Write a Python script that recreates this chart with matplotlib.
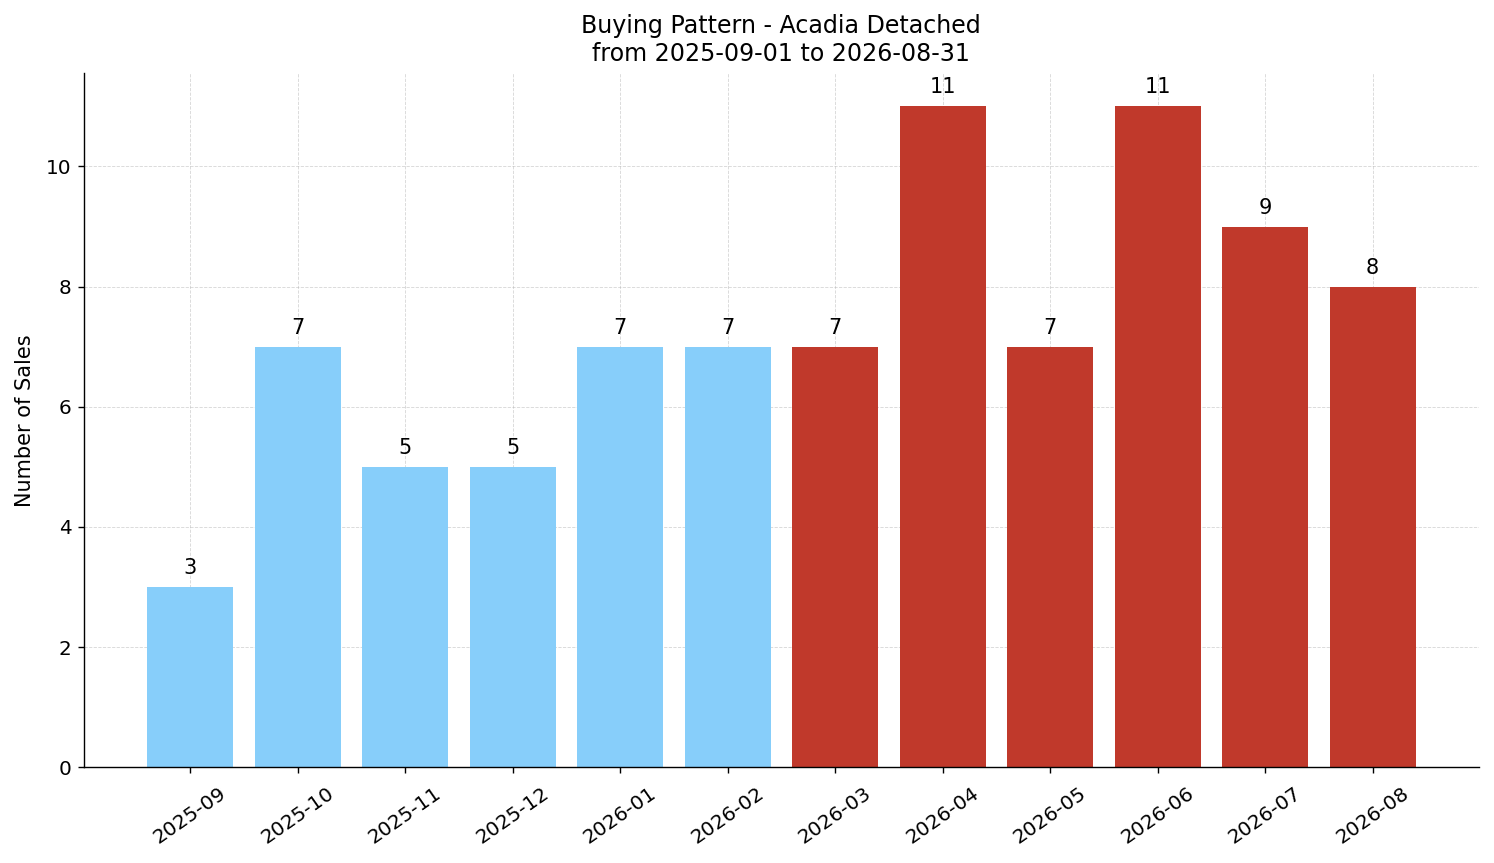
import matplotlib
matplotlib.use("Agg")
import matplotlib.pyplot as plt

months = ["2025-09", "2025-10", "2025-11", "2025-12", "2026-01", "2026-02",
          "2026-03", "2026-04", "2026-05", "2026-06", "2026-07", "2026-08"]
sales = [3, 7, 5, 5, 7, 7, 7, 11, 7, 11, 9, 8]
is_future = [False, False, False, False, False, False, True, True, True, True, True, True]

past_color = "#87CEFA"
future_color = "#C0392B"
colors = [future_color if f else past_color for f in is_future]

fig, ax = plt.subplots(figsize=(11.952, 6.904), dpi=125)
x = list(range(len(months)))
ax.bar(x, sales, color=colors, width=0.8, zorder=2)
for xi, v in zip(x, sales):
    ax.text(xi, v + 0.15, str(v), ha="center", va="bottom", fontsize=12)

ax.set_xticks(x)
ax.set_xticklabels(months, rotation=35, fontsize=11.5)
ax.tick_params(axis="x", pad=6)
ax.tick_params(axis="y", labelsize=11.5)
ax.set_ylabel("Number of Sales", fontsize=12, labelpad=6)
ax.set_title("Buying Pattern - Acadia Detached\nfrom 2025-09-01 to 2026-08-31", fontsize=13.7, pad=7)
ax.grid(True, linestyle="--", linewidth=0.5, alpha=0.5, zorder=3)
ax.spines["top"].set_visible(False)
ax.spines["right"].set_visible(False)
fig.subplots_adjust(left=0.056, right=0.99, top=0.915, bottom=0.111)
fig.savefig("out.png", dpi=125)
